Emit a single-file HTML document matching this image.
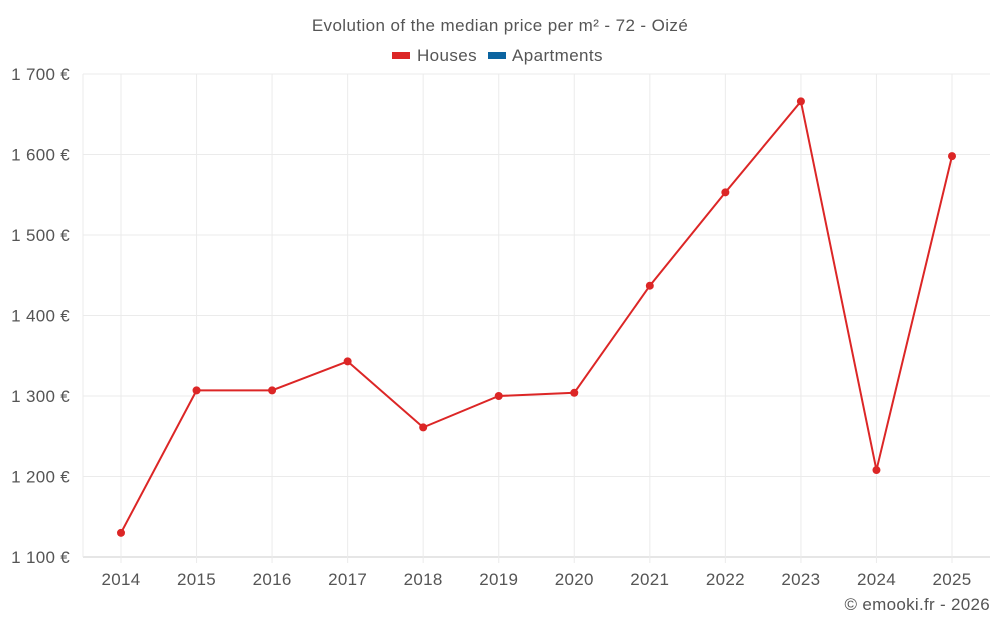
<!DOCTYPE html>
<html><head><meta charset="utf-8"><style>
body{margin:0;background:#fff;}
svg{display:block;font-family:"Liberation Sans",sans-serif;}
</style></head><body>
<svg id="chart" width="1000" height="625" viewBox="0 0 1000 625">
<text x="500" y="31" text-anchor="middle" font-size="17" letter-spacing="0.4" fill="#555">Evolution of the median price per m² - 72 - Oizé</text>
<g>
<g><rect x="392" y="52" width="18" height="7" fill="#dc2626"/><text x="417" y="61" font-size="17" letter-spacing="0.4" fill="#555">Houses</text></g>
<g><rect x="488" y="52" width="18" height="7" fill="#0b64a0"/><text x="512" y="61" font-size="17" letter-spacing="0.4" fill="#555">Apartments</text></g>
</g>
<g id="grid"></g><g id="axes"></g><g id="series"></g>
<text x="990" y="610" text-anchor="end" font-size="17" letter-spacing="0.3" fill="#555">© emooki.fr - 2026</text>
</svg>
<script>
const years=["2014","2015","2016","2017","2018","2019","2020","2021","2022","2023","2024","2025"];
const houses=[1130,1307,1307,1343,1261,1300,1304,1437,1553,1666,1208,1598];
const yTicks=[1100,1200,1300,1400,1500,1600,1700];
const yTickLabels=["1 100 €","1 200 €","1 300 €","1 400 €","1 500 €","1 600 €","1 700 €"];
const NS="http://www.w3.org/2000/svg";
const L=83,R=990,T=74,B=557,ymin=1100,ymax=1700;
const y=v=>B-(v-ymin)/(ymax-ymin)*(B-T);
const x=i=>121+i*(952-121)/(years.length-1);
function mk(t,a,p){const e=document.createElementNS(NS,t);for(const k in a)e.setAttribute(k,a[k]);p.appendChild(e);return e;}
const g=document.getElementById('grid'),ax=document.getElementById('axes'),s=document.getElementById('series');
yTicks.forEach((v,i)=>{
 const l=mk('line',{x1:L,x2:R,y1:y(v),y2:y(v),stroke:i==0?'#ccc':'#ebebeb'},g);
 
 
 const t=mk('text',{x:70,y:y(v)+6,'text-anchor':'end','font-size':17,'letter-spacing':0.3,fill:'#555'},ax);
 t.textContent=yTickLabels[i];
 
 
});
const lb=mk('line',{x1:L,x2:L,y1:T,y2:B,stroke:'#ebebeb'},g);


years.forEach((yr,i)=>{
 const l=mk('line',{x1:x(i),x2:x(i),y1:T,y2:B+6,stroke:'#ebebeb'},g);
 
 
 const t=mk('text',{x:x(i),y:585,'text-anchor':'middle','font-size':17,'letter-spacing':0.3,fill:'#555'},ax);
 t.textContent=yr;
 
 
});
const p=mk('polyline',{points:houses.map((v,i)=>x(i)+','+y(v)).join(' '),fill:'none',stroke:'#dc2626','stroke-width':2},s);


houses.forEach((v,i)=>{
 const c=mk('circle',{cx:x(i),cy:y(v),r:4,fill:'#dc2626'},s);
 
 
});
</script>
</body></html>
